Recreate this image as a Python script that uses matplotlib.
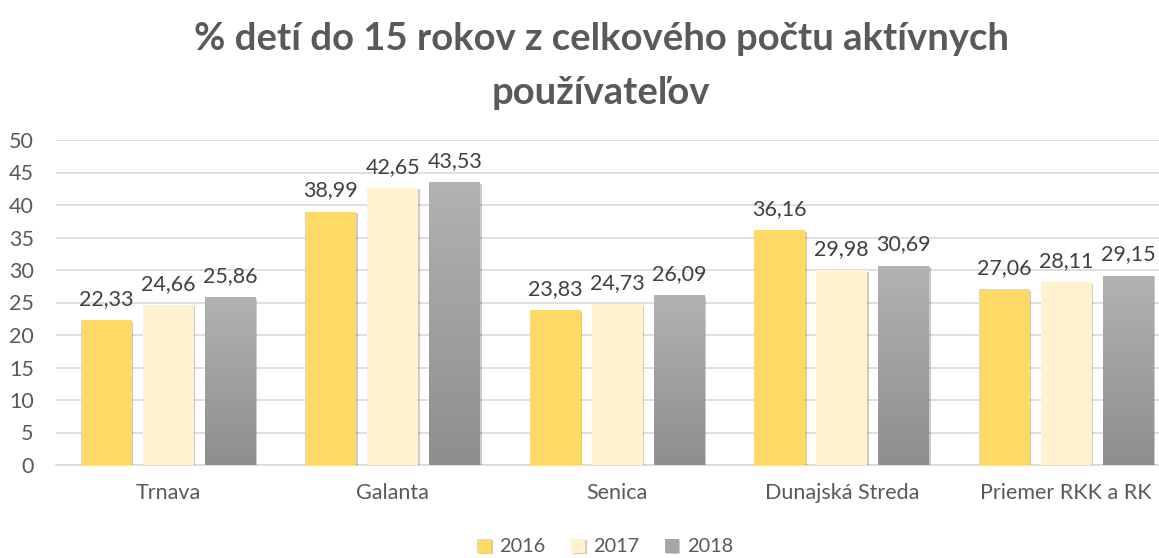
import numpy as np
import matplotlib.pyplot as plt
import matplotlib.patheffects as pe
from matplotlib.colors import LinearSegmentedColormap

categories = ['Trnava', 'Galanta', 'Senica', 'Dunajská Streda', 'Priemer RKK a RK']
years = ['2016', '2017', '2018']
v2016 = [22.33, 38.99, 23.83, 36.16, 27.06]
v2017 = [24.66, 42.65, 24.73, 29.98, 28.11]
v2018 = [25.86, 43.53, 26.09, 30.69, 29.15]
colors = ['#FFD966', '#FFF2CC', '#A6A6A6']

plt.rcParams['font.family'] = ['Lato', 'DejaVu Sans']

fig = plt.figure(figsize=(11.59, 5.58), dpi=100)
# plot area runs past the right edge, as in the cropped original
ax = fig.add_axes([56 / 1159, 1 - 465 / 558, 1122.5 / 1159, 325 / 558])

x = np.arange(len(categories))
step = 0.276
width = 0.227
shadow = [pe.SimplePatchShadow(offset=(1.2, -1.2), shadow_rgbFace='#000000', alpha=0.2), pe.Normal()]
gray = LinearSegmentedColormap.from_list('g', ['#8E8E8E', '#B2B2B2'])

for i, (vals, yr) in enumerate(zip([v2016, v2017, v2018], years)):
    pos = x + (i - 1) * step
    bars = ax.bar(pos, vals, width, color=colors[i], label=yr, zorder=3)
    for b in bars:
        b.set_path_effects(shadow)
    if yr == '2018':
        grad = np.linspace(0, 1, 256).reshape(-1, 1)
        for b in bars:
            bx = b.get_x()
            im = ax.imshow(grad, cmap=gray, extent=[bx, bx + b.get_width(), 0, b.get_height()],
                           origin='lower', aspect='auto', zorder=4)
            im.set_clip_path(b)
    for p, v in zip(pos, vals):
        ax.annotate(f'{v:.2f}'.replace('.', ','), (p, v), xytext=(0, 8), textcoords='offset points',
                    ha='center', va='bottom', fontsize=15.5, color='#404040')

ax.set_xlim(-0.5, len(categories) - 0.5)
ax.set_ylim(0, 50)
ax.set_yticks(range(0, 51, 5))
ax.set_xticks(x)
ax.set_xticklabels(categories)
ax.tick_params(axis='both', length=0, labelsize=15.5, labelcolor='#595959')
ax.tick_params(axis='y', pad=16)
ax.tick_params(axis='x', pad=13)
ax.yaxis.grid(True, color='#D9D9D9', linewidth=1.2, zorder=0)
for s in ['top', 'right', 'left']:
    ax.spines[s].set_visible(False)
ax.spines['bottom'].set_color('#D9D9D9')
ax.spines['bottom'].set_linewidth(1.2)

fig.text(601 / 1159, 0.96, '% detí do 15 rokov z celkového počtu aktívnych\npoužívateľov', fontsize=27.5,
         fontweight='bold', color='#595959', ha='center', va='top', linespacing=1.72)

fig.legend(loc='center', ncol=3, frameon=False, fontsize=14.3, labelcolor='#595959',
           handlelength=0.7, handleheight=0.7, handletextpad=0.4, columnspacing=1.3,
           bbox_to_anchor=(605 / 1159, 1 - 547 / 558))

fig.savefig('out.png', dpi=100)
